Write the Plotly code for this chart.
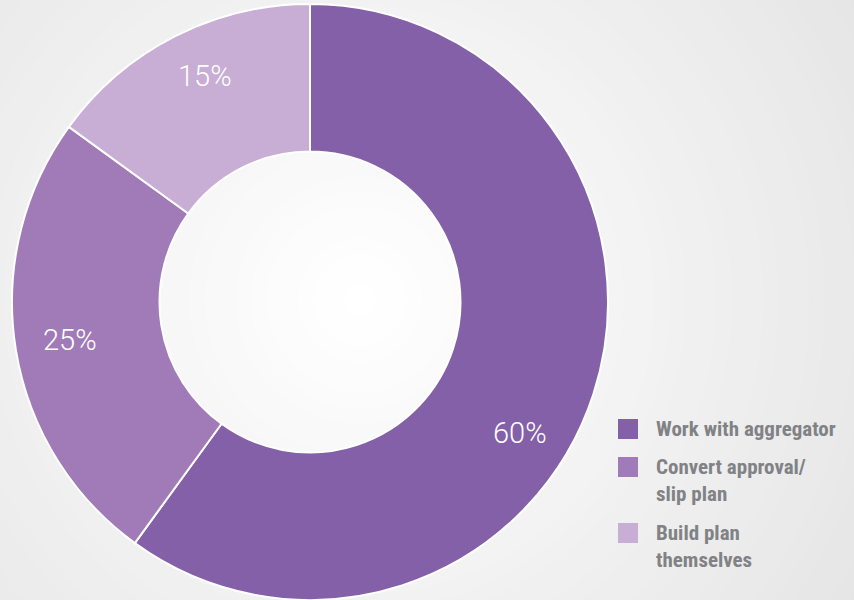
import math
import plotly.graph_objects as go

labels = ["Work with aggregator", "Convert approval/<br>slip plan", "Build plan<br>themselves"]
values = [60, 25, 15]
colors = ["#8460a8", "#a07bb8", "#c8add4"]
label_texts = ["60%", "25%", "15%"]

W, H = 854, 600
cx, cy, R = 310, 302, 298

fig = go.Figure()
fig.add_trace(go.Pie(
    labels=labels, values=values, sort=False, direction="clockwise", rotation=0,
    hole=0.505, marker=dict(colors=colors, line=dict(color="white", width=2)),
    textinfo="none", showlegend=False, hoverinfo="label+percent",
    domain=dict(x=[(cx - R) / W, (cx + R) / W], y=[(H - cy - R) / H, (H - cy + R) / H]),
))

shapes = []
# radial background gradient
n = 40
gcx, gcy = 360, 300
for i in range(n):
    r = 620 * (1 - i / n)
    t = i / (n - 1)
    c = int(round(228 + (255 - 228) * t))
    shapes.append(dict(type="circle", xref="paper", yref="paper", xsizemode="pixel", ysizemode="pixel",
                       xanchor=gcx / W, yanchor=1 - gcy / H, x0=-r, x1=r, y0=-r, y1=r,
                       fillcolor=f"rgb({c},{c},{c})", line=dict(width=0), layer="below"))

annotations = []
# percentage labels around the ring
label_radius = [248, 243, 249]
angle_shift = [14, 0, 2]
cum = 0
for v, txt, rr, sh in zip(values, label_texts, label_radius, angle_shift):
    mid = (cum + v / 2) / sum(values) * 360 + sh
    cum += v
    a = math.radians(mid)
    px = cx + rr * math.sin(a)
    py = cy - rr * math.cos(a)
    annotations.append(dict(x=px / W, y=1 - py / H, xref="paper", yref="paper", text=txt, showarrow=False,
                            font=dict(family="Roboto", size=29, color="white", weight=300),
                            xanchor="center", yanchor="middle"))

# legend
leg_y = [429, 467, 533]
for lab, col, ly in zip(labels, colors, leg_y):
    shapes.append(dict(type="rect", xref="paper", yref="paper", xsizemode="pixel", ysizemode="pixel",
                       xanchor=628 / W, yanchor=1 - ly / H, x0=-10, x1=10, y0=-10, y1=10,
                       fillcolor=col, line=dict(width=0)))
    annotations.append(dict(x=654 / W, y=1 - (ly - 14) / H, xref="paper", yref="paper", text=lab,
                            showarrow=False, xanchor="left", yanchor="top", align="left",
                            font=dict(family="Roboto Condensed, Liberation Sans Narrow, Roboto", size=21,
                                      color="#808285", weight="bold")))

fig.update_layout(width=W, height=H, margin=dict(l=0, r=0, t=0, b=0),
                  paper_bgcolor="#eeeeee", plot_bgcolor="#eeeeee",
                  shapes=shapes, annotations=annotations)
fig.write_html("out.html")
